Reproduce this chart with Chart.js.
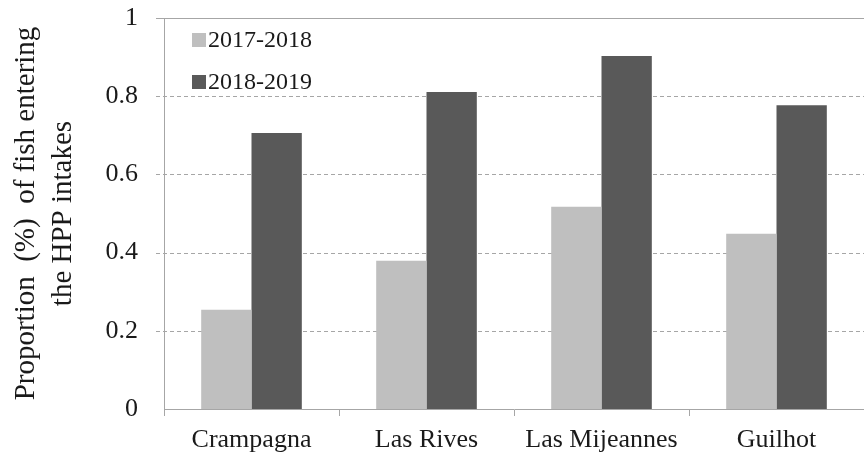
<!DOCTYPE html>
<html>
<head>
<meta charset="utf-8">
<script src="https://cdn.jsdelivr.net/npm/chart.js@4"></script>
<style>
  html, body { margin: 0; padding: 0; background: #fff; }
  #wrap { width: 864px; height: 456px; }
</style>
</head>
<body>
<div id="wrap"><canvas id="chart" width="864" height="456"></canvas></div>
<script>
// data
const sites = ["Crampagna", "Las Rives", "Las Mijeannes", "Guilhot"];
const season1 = [0.254, 0.379, 0.517, 0.448];   // 2017-2018
const season2 = [0.706, 0.811, 0.903, 0.777];   // 2018-2019
const seasonLabels = ["2017-2018", "2018-2019"];
const yTicks = [0, 0.2, 0.4, 0.6, 0.8, 1];

const serif = "'Liberation Serif', 'Times New Roman', serif";
const axisGrey = "#a6a6a6";

// dashed horizontal lines (solid at the top), drawn through the y scale
const gridPlugin = {
  id: "dashGrid",
  beforeDatasetsDraw(chart) {
    const ctx = chart.ctx;
    const y = chart.scales.y;
    const area = chart.chartArea;
    ctx.save();
    ctx.lineWidth = 1;
    ctx.strokeStyle = axisGrey;
    yTicks.forEach(v => {
      if (v === 0) return;
      const py = Math.round(y.getPixelForValue(v)) + 0.5;
      ctx.setLineDash(v === 1 ? [] : [4, 3]);
      ctx.beginPath();
      ctx.moveTo(area.left - 8, py);
      ctx.lineTo(area.right, py);
      ctx.stroke();
    });
    ctx.restore();
  }
};

// legend inside the plot, top left, stacked
const legendPlugin = {
  id: "innerLegend",
  afterDraw(chart) {
    const ctx = chart.ctx;
    const area = chart.chartArea;
    ctx.save();
    ctx.font = "24px " + serif;
    ctx.textBaseline = "middle";
    chart.data.datasets.forEach((ds, i) => {
      const x = area.left + 28;
      const cy = area.top + 22 + i * 42;
      ctx.fillStyle = ds.backgroundColor;
      ctx.fillRect(x, cy - 7, 14, 14);
      ctx.fillStyle = "#1a1a1a";
      ctx.fillText(ds.label, x + 16, cy + 1);
    });
    ctx.restore();
  }
};

new Chart("chart", {
  type: "bar",
  data: {
    labels: sites,
    datasets: [
      {
        label: seasonLabels[0],
        data: season1,
        backgroundColor: "#bfbfbf",
        categoryPercentage: 0.575,
        barPercentage: 1.0
      },
      {
        label: seasonLabels[1],
        data: season2,
        backgroundColor: "#595959",
        categoryPercentage: 0.575,
        barPercentage: 1.0
      }
    ]
  },
  options: {
    responsive: false,
    animation: false,
    layout: { padding: { top: 18, right: 0, left: 0, bottom: 0 } },
    plugins: {
      legend: { display: false },
      tooltip: { enabled: false }
    },
    scales: {
      x: {
        grid: {
          display: true,
          offset: true,
          drawOnChartArea: false,
          drawTicks: true,
          tickLength: 7,
          color: axisGrey
        },
        border: { display: true, color: axisGrey, width: 1 },
        ticks: {
          color: "#1a1a1a",
          padding: 9,
          maxRotation: 0,
          font: { family: serif, size: 26 }
        },
        afterFit(scale) {
          scale.height = 47;
          scale.paddingLeft = 0;
          scale.paddingRight = 0;
        }
      },
      y: {
        min: 0,
        max: 1,
        afterBuildTicks(scale) {
          scale.ticks = yTicks.map(v => ({ value: v }));
        },
        grid: { display: false },
        border: { display: true, color: axisGrey, width: 1 },
        ticks: {
          color: "#1a1a1a",
          padding: 18,
          font: { family: serif, size: 26 },
          callback: v => String(v)
        },
        title: {
          display: true,
          text: ["Proportion  (%)  of fish entering", "the HPP intakes"],
          color: "#1a1a1a",
          font: { family: serif, size: 29, lineHeight: 1.27 },
          padding: { top: 8, bottom: 6 }
        },
        afterFit(scale) {
          scale.width = 164;
          scale.paddingTop = 0;
          scale.paddingBottom = 0;
        }
      }
    }
  },
  plugins: [gridPlugin, legendPlugin]
});
</script>
</body>
</html>
